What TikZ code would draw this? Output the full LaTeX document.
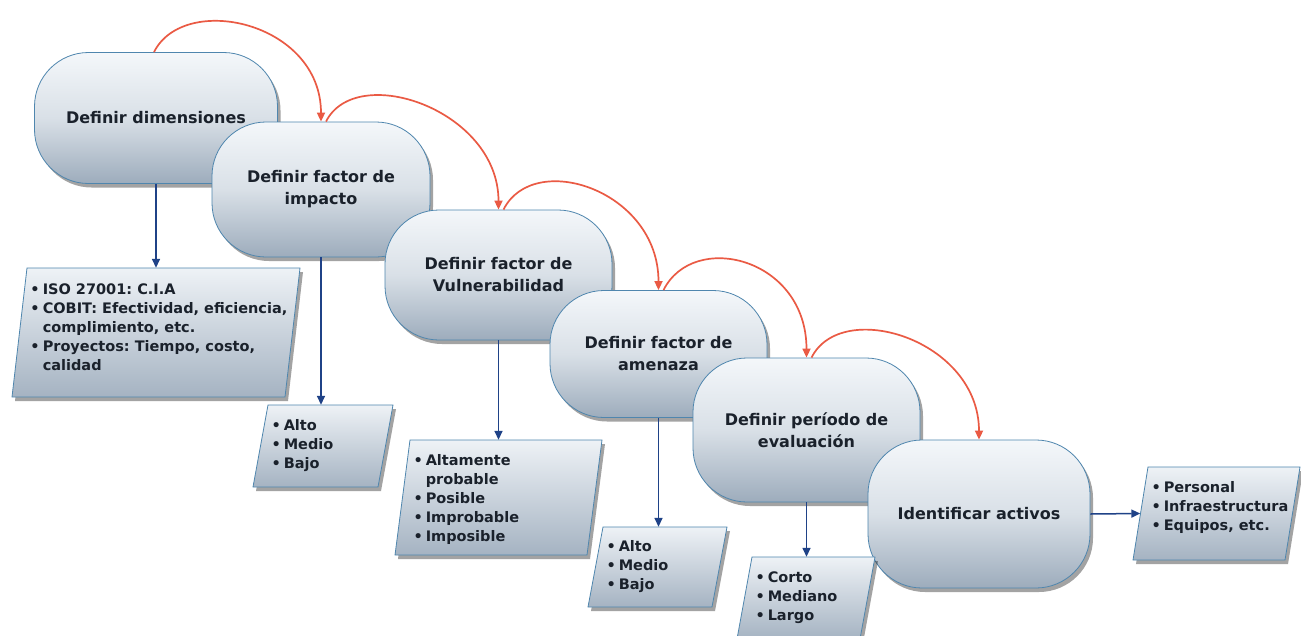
\documentclass[tikz,border=0pt]{standalone}
\usepackage{fontspec}
\setmainfont{DejaVu Sans}
\usetikzlibrary{arrows.meta,shadows}

\definecolor{stageline}{HTML}{4F86AE}
\definecolor{stagetop}{HTML}{F4F7FA}
\definecolor{stagemid}{HTML}{D9E0E7}
\definecolor{stagebot}{HTML}{9DACBC}
\definecolor{boxtop}{HTML}{EEF2F6}
\definecolor{boxbot}{HTML}{A5B3C2}
\definecolor{flowred}{HTML}{EA5A44}
\definecolor{linkblue}{HTML}{1F4287}
\definecolor{ink}{HTML}{1A212B}

% bullet item and the matching hanging indent
\newcommand\bul{\textbullet\hspace{3pt}}
\newcommand\bulpad{\phantom{\bul}}
\def\boxslant{15}

% #1 name, #2 cx, #3 cy, #4 width, #5 height, #6 text lift, #7 text
\newcommand\infobox[7]{%
  \path[boxshape] ({#2-#4/2},{#3+#5/2}) -- ({#2+#4/2-\boxslant},{#3+#5/2})
     -- ({#2+#4/2},{#3-#5/2}) -- ({#2-#4/2+\boxslant},{#3-#5/2}) -- cycle;
  \node[inner sep=0pt, minimum width=#4pt, minimum height=#5pt] (#1) at (#2,#3) {};
  \node[boxtext, anchor=west] (#1-text) at ([xshift=18.5pt,yshift=#6pt]#1.west) {#7};
}

\tikzset{
  softshadow/.style={drop shadow={shadow xshift=3pt,shadow yshift=-4pt,opacity=.45,fill=black!80}},
  stage/.style={rectangle, rounded corners=54pt, draw=stageline, line width=0.8pt,
    top color=stagetop, bottom color=stagebot, middle color=stagemid, softshadow,
    align=center, text=ink, font=\fontsize{16}{22}\selectfont\bfseries, inner sep=0pt},
  boxshape/.style={draw=stageline, line width=0.8pt, top color=boxtop, bottom color=boxbot, softshadow},
  boxtext/.style={inner sep=0pt, align=left, text=ink, font=\fontsize{14.5}{19}\selectfont\bfseries\frenchspacing},
  flow/.style={draw=flowred, line width=1.7pt, -{Triangle[length=9pt,width=8pt]}},
  link/.style={draw=linkblue, line width=1.5pt, -{Triangle[length=9pt,width=8pt]}},
}

\begin{document}
\begin{tikzpicture}[x=1pt,y=-1pt]
  \fill[white] (0,0) rectangle (1301,635);
  \useasboundingbox (0,0) rectangle (1301,635);

  % process stages, each one overlapping the previous
  \node[stage, minimum width=243pt, minimum height=131pt] (s1) at (156,118) {Definir dimensiones};
  \node[stage, minimum width=218pt, minimum height=135pt] (s2) at (321,189.5) {Definir factor de\\impacto};
  \node[stage, minimum width=227pt, minimum height=130pt] (s3) at (498.5,275) {Definir factor de\\Vulnerabilidad};
  \node[stage, minimum width=217pt, minimum height=127pt] (s4) at (658.5,354) {Definir factor de\\amenaza};
  \node[stage, minimum width=227pt, minimum height=144pt] (s5) at (806.5,430) {Definir período de\\evaluación};
  \node[stage, minimum width=222pt, minimum height=148pt] (s6) at (979,514) {Identificar activos};

  % detail boxes
  \infobox{b1}{156}{332.5}{288}{129}{5}{\bul ISO 27001: C.I.A\\ \bul COBIT: Efectividad, eficiencia,\\ \bulpad complimiento, etc.\\ \bul Proyectos: Tiempo, costo,\\ \bulpad calidad}
  \infobox{b2}{323}{446}{140}{82}{0}{\bul Alto\\ \bul Medio\\ \bul Bajo}
  \infobox{b3}{498.5}{497.5}{207}{115}{-2}{\bul Altamente\\ \bulpad probable\\ \bul Posible\\ \bul Improbable\\ \bul Imposible}
  \infobox{b4}{657.5}{567}{139}{80}{0}{\bul Alto\\ \bul Medio\\ \bul Bajo}
  \infobox{b5}{806}{598}{138}{82}{0}{\bul Corto\\ \bul Mediano\\ \bul Largo}
  \infobox{b6}{1216.5}{513.5}{167}{93}{6}{\bul Personal\\ \bul Infraestructura\\ \bul Equipos, etc.}

  % stage to detail links
  \draw[link] (s1.south) -- (s1.south |- b1.north);
  \draw[link] (s2.south) -- (s2.south |- b2.north);
  \draw[link] (s3.south) -- (s3.south |- b3.north);
  \draw[link] (s4.south) -- (s4.south |- b4.north);
  \draw[link] (s5.south) -- (s5.south |- b5.north);
  \draw[link] (s6.east) -- ([xshift=7.5pt]b6.west);

  % sequence between stages
  \draw[flow] ([xshift=-2pt]s1.north) .. controls +(30,-60) and +(0,-100) .. (s2.north);
  \draw[flow] ([xshift=5pt]s2.north) .. controls +(30,-60) and +(0,-100) .. (s3.north);
  \draw[flow] ([xshift=5pt]s3.north) .. controls +(30,-60) and +(0,-100) .. (s4.north);
  \draw[flow] ([xshift=5pt]s4.north) .. controls +(30,-60) and +(0,-100) .. (s5.north);
  \draw[flow] ([xshift=5pt]s5.north) .. controls +(30,-60) and +(0,-100) .. (s6.north);
\end{tikzpicture}
\end{document}
